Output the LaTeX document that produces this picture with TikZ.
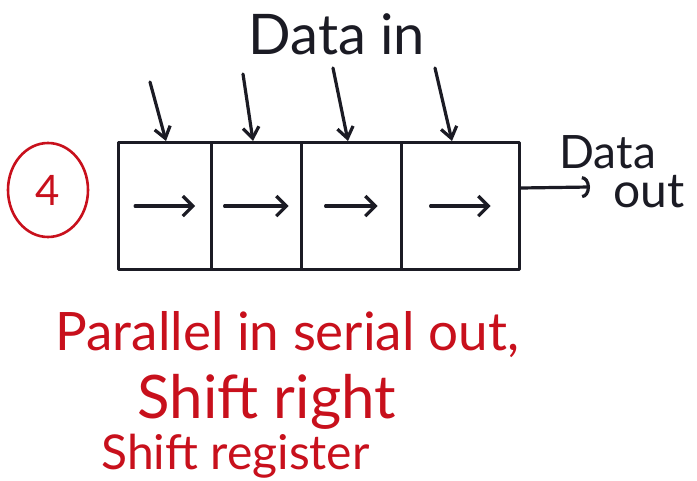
\documentclass[tikz,border=0pt]{standalone}
\usepackage{fontspec}
\setmainfont{Lato}
\usetikzlibrary{arrows.meta,shapes.geometric}
\definecolor{ink}{HTML}{1B1B24}
\definecolor{redink}{HTML}{C8101C}
\tikzset{
  pen/.style={draw=ink, line width=3.2pt, line cap=round, line join=round},
  cell/.style={pen, rectangle, minimum width=#1, minimum height=127pt, anchor=north west, inner sep=0pt},
  flow/.style={pen, -{Straight Barb[length=10pt,width=20pt,line width=3.2pt]}},
  feed/.style={pen, -{Straight Barb[length=11pt,width=16pt,line width=3.2pt]}},
  outflow/.style={pen, -{Arc Barb[length=8pt,width=22pt,line width=3.2pt]}},
  lbl/.style={text=ink, font=\fontsize{#1}{#1}\selectfont},
  note/.style={text=redink, font=\fontsize{#1}{#1}\selectfont},
}
\begin{document}
\begin{tikzpicture}[x=1pt,y=-1pt]
  \useasboundingbox (0,0) rectangle (697,481);
  \fill[white] (0,0) rectangle (697,481);

  % register cells
  \node[cell=93pt]  (c1) at (117,141) {};
  \node[cell=90pt]  (c2) at (210,141) {};
  \node[cell=100pt] (c3) at (300,141) {};
  \node[cell=118pt] (c4) at (400,141) {};

  % shift direction inside each cell
  \foreach \c/\w in {c1/30,c2/32,c3/26,c4/30}{
    \coordinate (\c-a) at ([xshift=-\w pt]\c.center);
    \coordinate (\c-b) at ([xshift=\w pt]\c.center);
    \draw[flow] (\c-a) -- (\c-b);
  }

  % parallel data inputs
  \coordinate (in1) at (150,82);
  \coordinate (in2) at (243,74);
  \coordinate (in3) at (333,68);
  \coordinate (in4) at (435,68);
  \coordinate (t1) at (166,141);
  \coordinate (t2) at (253,141);
  \coordinate (t3) at (348,141);
  \coordinate (t4) at (452,141);
  \foreach \i in {1,2,3,4}{
    \draw[feed] (in\i) -- (t\i);
  }
  \node[lbl=56] (din) at (337,34) {Data in};

  % serial output
  \coordinate (o) at (590,187);
  \draw[outflow] (c4.east |- 0,188) -- (o);
  \node[lbl=46, anchor=west] (dout1) at (556,152) {Data};
  \node[lbl=48, anchor=west] (dout2) at (610,192) {out};

  % item number
  \node[ellipse, draw=redink, line width=2.6pt, minimum width=80pt, minimum height=94pt,
        text=redink, font=\fontsize{42}{42}\selectfont] (num) at (48,190) {4};

  % caption
  \node[note=53, anchor=west] (cap1) at (52,335) {Parallel in serial out,};
  \node[note=60, anchor=west] (cap2) at (134,402) {Shift right};
  \node[note=48, anchor=west] (cap3) at (98,456) {Shift register};
\end{tikzpicture}
\end{document}
